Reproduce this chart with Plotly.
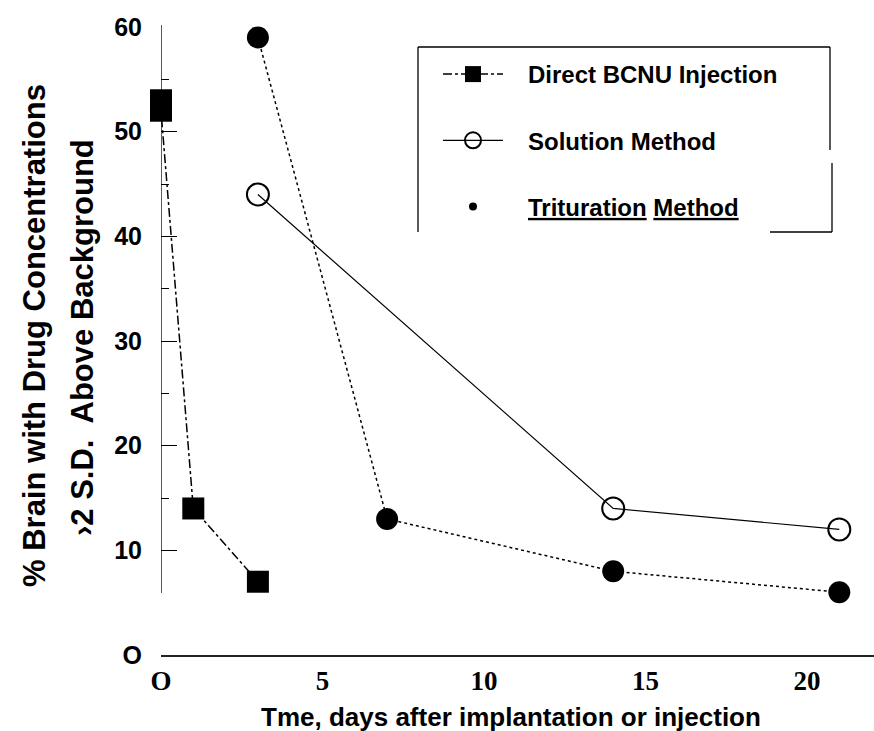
import plotly.graph_objects as go

# ---- data ---------------------------------------------------------------
direct_days = [0, 0, 1, 3]
direct_pct = [53, 52, 14, 7]

solution_days = [3, 14, 21]
solution_pct = [44, 14, 12]

trituration_days = [3, 7, 14, 21]
trituration_pct = [59, 13, 8, 6]

x_tick_vals = [0, 5, 10, 15, 20]
x_tick_text = ["O", "5", "10", "15", "20"]
y_tick_vals = [0, 10, 20, 30, 40, 50, 60]
y_tick_text = ["O", "10", "20", "30", "40", "50", "60"]
y_minor_vals = [15, 25, 35, 45, 55]

# ---- page geometry (pixels) ----------------------------------------------
W, H = 874, 731
L, R, T, B = 161, 0, 27, 76
PW, PH = W - L - R, H - T - B


def px_x(p):
    """pixel column -> paper x"""
    return (p - L) / PW


def px_y(p):
    """pixel row -> paper y"""
    return (H - B - p) / PH


SANS = "Liberation Sans, Arial, Helvetica, sans-serif"
SERIF = "Liberation Serif, Times New Roman, serif"
GAP = "&nbsp;" * 3  # extra room between legend key and label

fig = go.Figure()

fig.add_trace(go.Scatter(
    x=direct_days, y=direct_pct, name=GAP + "Direct BCNU Injection",
    mode="lines+markers", legendgroup="a",
    line=dict(color="black", width=1.5, dash="dashdot"),
    marker=dict(symbol="square", size=22, color="black"),
    cliponaxis=False,
))

fig.add_trace(go.Scatter(
    x=solution_days, y=solution_pct, name=GAP + "Solution Method",
    mode="lines+markers", legendgroup="b",
    line=dict(color="black", width=1.2),
    marker=dict(symbol="circle-open", size=22, color="black",
                line=dict(width=2, color="black")),
    cliponaxis=False,
))

fig.add_trace(go.Scatter(
    x=trituration_days, y=trituration_pct, name="Trituration Method",
    mode="lines+markers", showlegend=False,
    line=dict(color="black", width=1.5, dash="dot"),
    marker=dict(symbol="circle", size=22, color="black"),
    cliponaxis=False,
))

# legend key for the trituration series: a small dot only
fig.add_trace(go.Scatter(
    x=[None], y=[None], name=GAP + "<u>Trituration</u> <u>Method</u>",
    mode="markers", legendgroup="c",
    marker=dict(symbol="circle", size=8, color="black"),
))

# legend frame (open on the lower left)
frame = [
    (418, 47, 830, 47),
    (418, 47, 418, 232),
    (830, 47, 830, 150),
    (832, 163, 832, 232),
    (770, 232, 832, 232),
]
shapes = [
    dict(type="line", xref="paper", yref="paper",
         x0=px_x(a), y0=px_y(b), x1=px_x(c), y1=px_y(d),
         line=dict(color="black", width=1.3))
    for a, b, c, d in frame
]
# vertical axis line, stopping short of the baseline
shapes.append(dict(type="line", xref="x", yref="paper",
                   x0=0, x1=0, y0=px_y(593), y1=px_y(25),
                   line=dict(color="black", width=1.3)))

annotations = [
    dict(text="<b>% Brain with Drug Concentrations</b>", textangle=-90,
         xref="paper", yref="paper", x=px_x(35), y=px_y(336),
         xanchor="center", yanchor="middle", showarrow=False,
         font=dict(family=SANS, size=31, color="black")),
    dict(text="<b>›2 S.D.  Above Background</b>", textangle=-90,
         xref="paper", yref="paper", x=px_x(83), y=px_y(338),
         xanchor="center", yanchor="middle", showarrow=False,
         font=dict(family=SANS, size=31, color="black")),
    dict(text="<b>Tme, days after implantation or injection</b>",
         xref="paper", yref="paper", x=px_x(511), y=px_y(717),
         xanchor="center", yanchor="middle", showarrow=False,
         font=dict(family=SANS, size=26, color="black")),
]

fig.update_layout(
    width=W, height=H,
    margin=dict(l=L, r=R, t=T, b=B, autoexpand=False),
    paper_bgcolor="white", plot_bgcolor="white",
    shapes=shapes, annotations=annotations,
    showlegend=True,
    legend=dict(
        xref="paper", yref="paper",
        x=px_x(438), y=px_y(52), xanchor="left", yanchor="top",
        bgcolor="rgba(0,0,0,0)", borderwidth=0,
        font=dict(family=SANS, size=24, color="black", weight="bold"),
        itemwidth=60, tracegroupgap=32, itemsizing="trace",
    ),
    xaxis=dict(
        range=[0, (W - L - R) / 32.3],
        tickvals=x_tick_vals, ticktext=x_tick_text,
        ticks="", showgrid=False, zeroline=False,
        showline=True, linecolor="#222", linewidth=2,
        tickfont=dict(family=SERIF, size=27, color="black", weight="bold"),
        ticklabelstandoff=1,
    ),
    yaxis=dict(
        range=[0, 60],
        tickvals=y_tick_vals, ticktext=y_tick_text,
        ticks="inside", ticklen=16, tickwidth=1.2, tickcolor="black",
        minor=dict(tickvals=y_minor_vals, ticks="inside", ticklen=8,
                   tickwidth=1.2, tickcolor="black"),
        showgrid=False, zeroline=False, showline=False,
        tickfont=dict(family=SANS, size=25, color="black", weight="bold"),
        ticklabelstandoff=18,
    ),
)

fig.write_html("out.html")
